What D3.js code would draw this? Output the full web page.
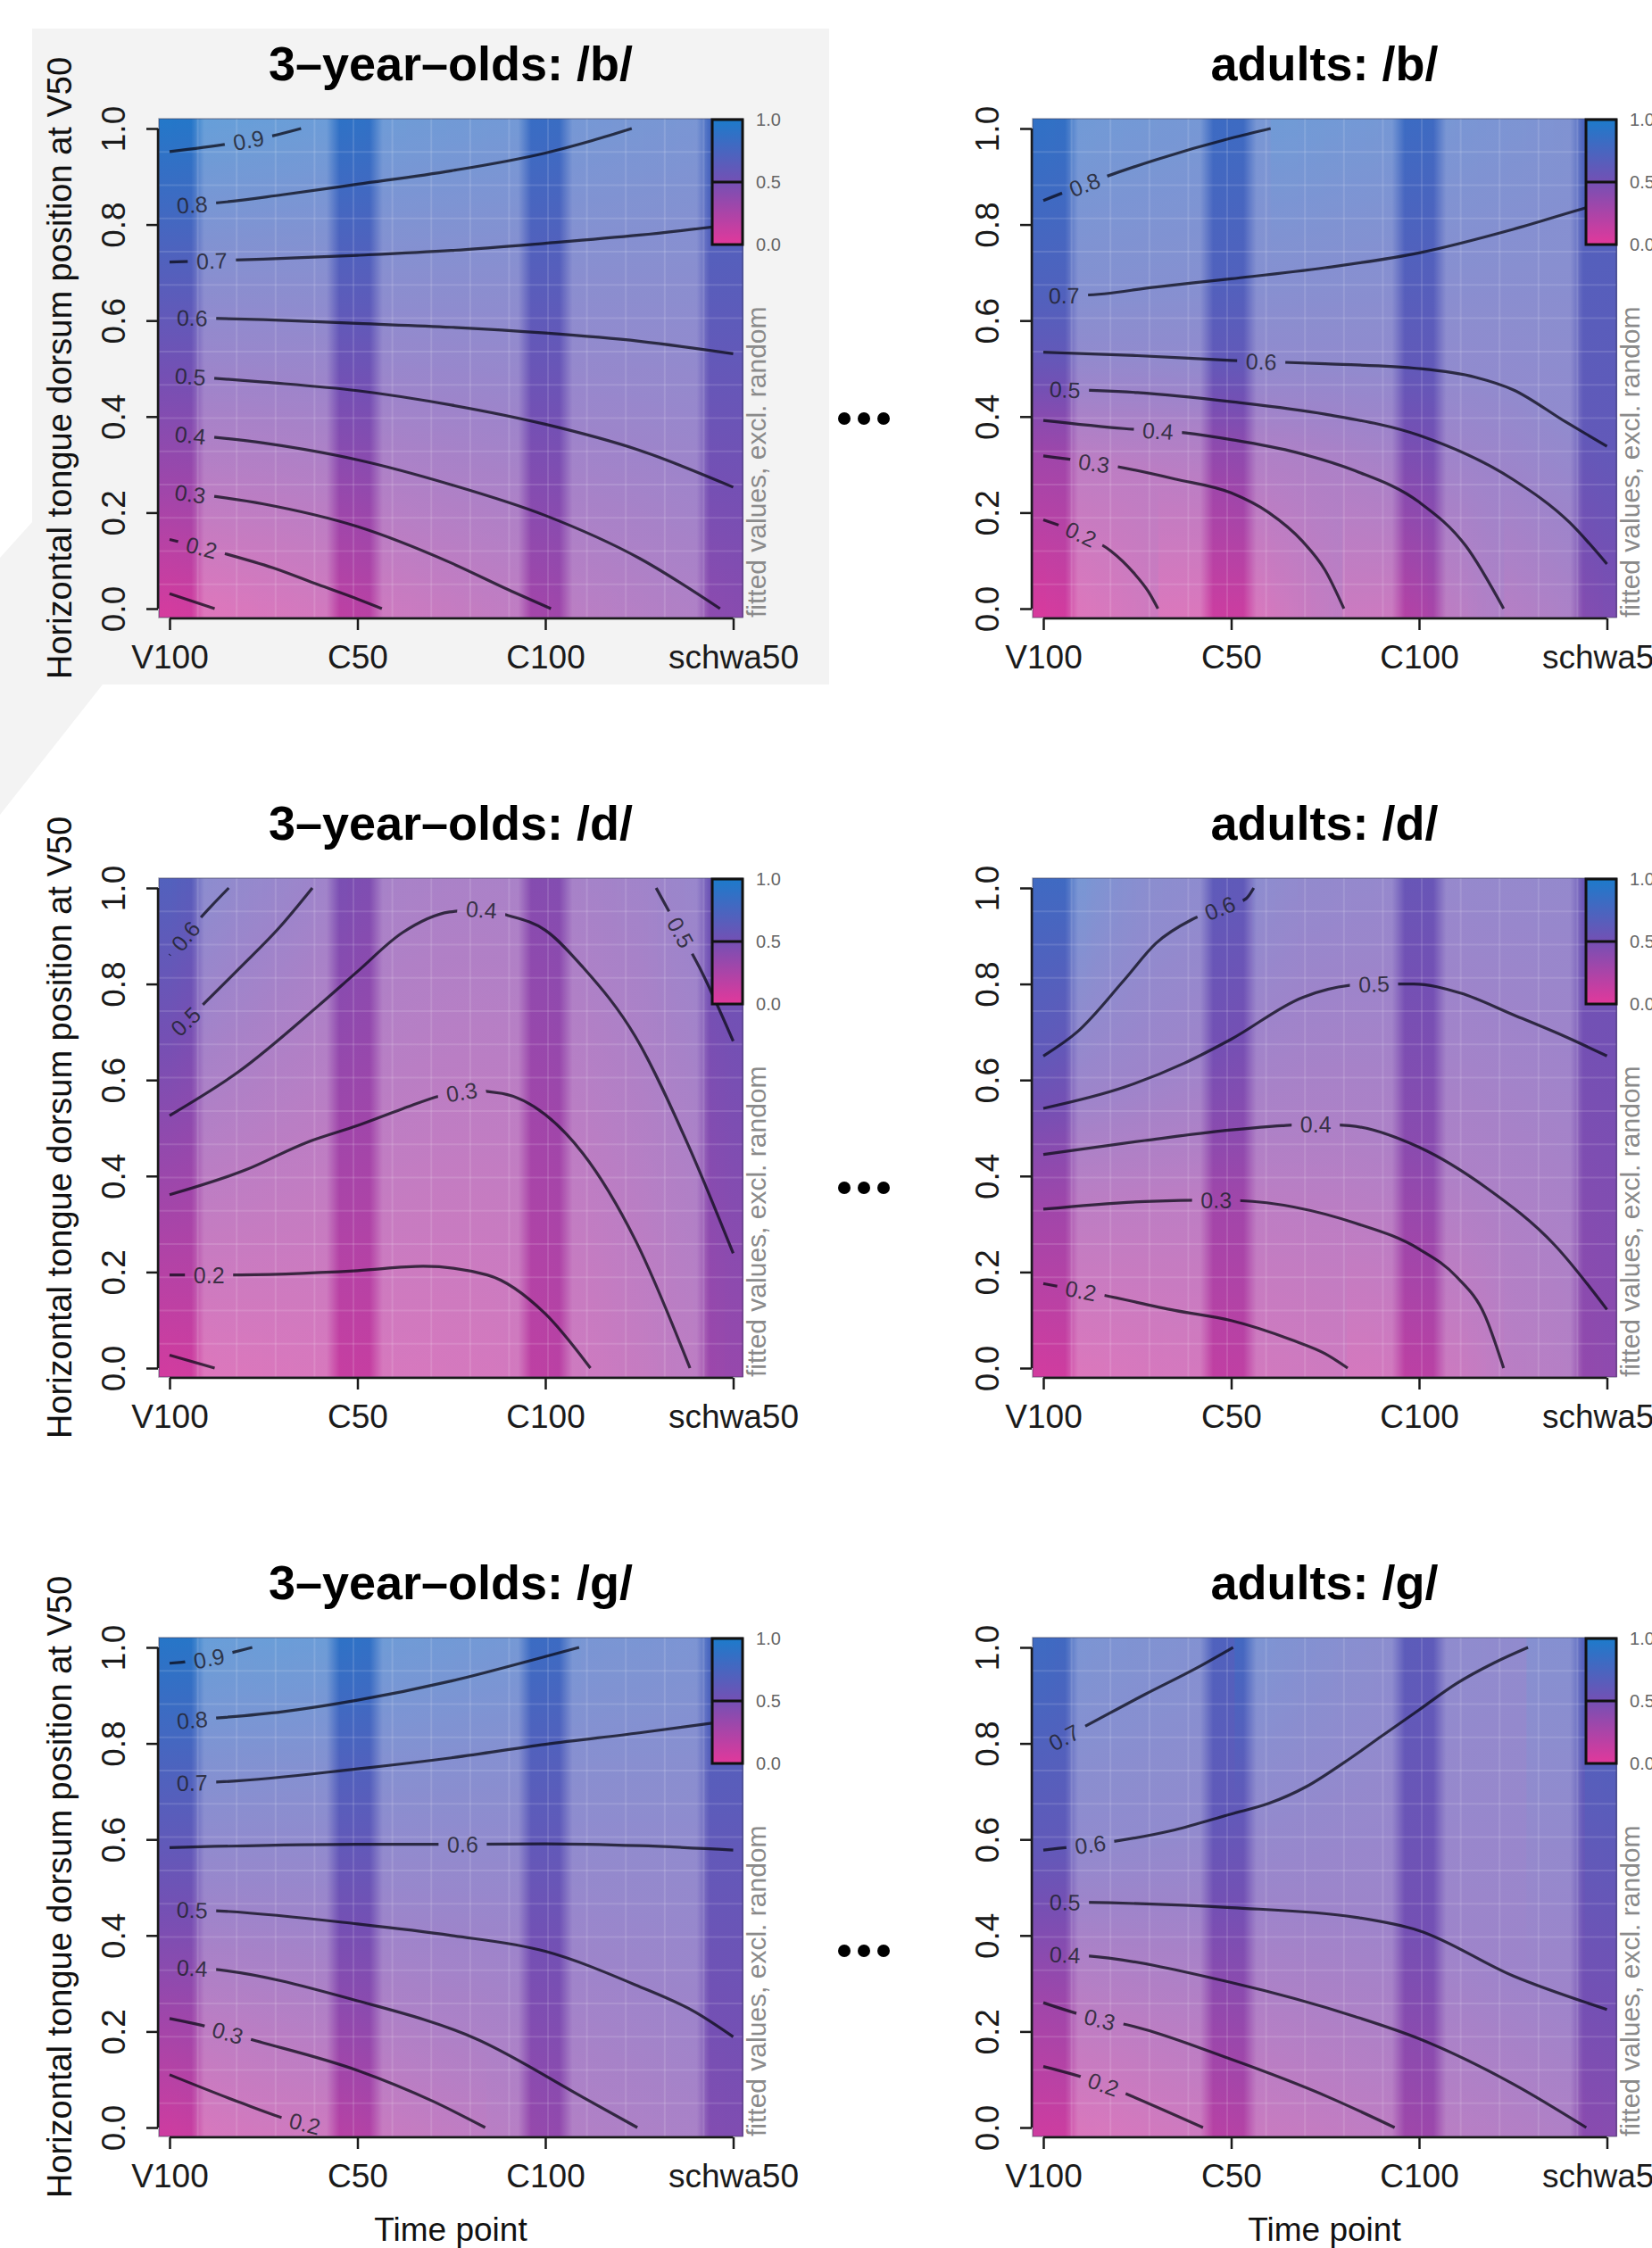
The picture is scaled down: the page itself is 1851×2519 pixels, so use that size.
<!DOCTYPE html>
<html>
<head>
<meta charset="utf-8">
<script src="https://cdn.jsdelivr.net/npm/d3@7"></script>
<style>
  html, body { margin: 0; padding: 0; background: #fff; }
  svg { display: block; font-family: 'Liberation Sans', Arial, Helvetica, sans-serif; }
</style>
</head>
<body>
<svg id="chart" width="1851" height="2519"></svg>
<script>
// ── Data ──
const timePoints  = ['V100', 'C50', 'C100', 'schwa50'];
const yTicks      = [0, 0.2, 0.4, 0.6, 0.8, 1.0];
const legendTicks = [0, 0.5, 1.0];

// darker vertical bands around the time points (in time-point units)
const bandLo = [-0.10, 0.87, 1.89, 2.84];
const bandHi = [0.15, 1.10, 2.11, 3.10];

// contour lines: [time point index, y]
const kidsB = [
  { level: 0.9, lab: 0.42,  pts: [[0, 0.952], [0.34, 0.970], [0.55, 0.985], [0.70, 1.0]] },
  { level: 0.8, lab: 0.12,  pts: [[0, 0.838], [0.225, 0.844], [0.6, 0.862], [1, 0.884], [1.5, 0.912], [2, 0.949], [2.25, 0.975], [2.46, 1.0]] },
  { level: 0.7, lab: 0.225, pts: [[0, 0.722], [0.5, 0.728], [1, 0.736], [1.5, 0.746], [2, 0.761], [2.5, 0.778], [3, 0.80]] },
  { level: 0.6, lab: 0.12,  pts: [[0, 0.607], [0.5, 0.602], [1, 0.594], [1.5, 0.586], [2, 0.574], [2.5, 0.557], [3, 0.531]] },
  { level: 0.5, lab: 0.11,  pts: [[0, 0.487], [0.5, 0.472], [1, 0.454], [1.5, 0.424], [2, 0.384], [2.5, 0.33], [3, 0.253]] },
  { level: 0.4, lab: 0.11,  pts: [[0, 0.366], [0.5, 0.345], [1, 0.31], [1.5, 0.258], [2, 0.194], [2.5, 0.105], [2.93, 0]] },
  { level: 0.3, lab: 0.11,  pts: [[0, 0.245], [0.5, 0.218], [1, 0.171], [1.5, 0.095], [1.8, 0.04], [2.03, 0]] },
  { level: 0.2, lab: 0.17,  pts: [[0, 0.144], [0.3, 0.114], [0.55, 0.085], [0.79, 0.05], [1.0, 0.02], [1.13, 0]] },
  { level: 0.1, lab: null,  pts: [[0, 0.031], [0.24, 0]] }
];

const adultsB = [
  { level: 0.8, lab: 0.22,  pts: [[0, 0.85], [0.32, 0.898], [0.6, 0.935], [1.0, 0.98], [1.21, 1.0]] },
  { level: 0.7, lab: 0.11,  pts: [[0, 0.652], [0.22, 0.653], [0.6, 0.67], [1, 0.687], [1.5, 0.71], [2, 0.741], [2.5, 0.79], [2.89, 0.835], [3, 0.847]] },
  { level: 0.6, lab: 1.16,  pts: [[0, 0.534], [0.5, 0.527], [1, 0.517], [1.5, 0.51], [2, 0.5], [2.3, 0.482], [2.5, 0.456], [2.78, 0.389], [3, 0.338]] },
  { level: 0.5, lab: 0.115, pts: [[0, 0.458], [0.5, 0.45], [1, 0.431], [1.5, 0.405], [2, 0.361], [2.5, 0.269], [2.8, 0.18], [3, 0.093]] },
  { level: 0.4, lab: 0.61,  pts: [[0, 0.392], [0.43, 0.375], [0.76, 0.366], [1, 0.352], [1.35, 0.325], [1.66, 0.287], [2, 0.222], [2.25, 0.13], [2.45, 0]] },
  { level: 0.3, lab: 0.27,  pts: [[0, 0.318], [0.39, 0.296], [0.7, 0.27], [1, 0.241], [1.2, 0.2], [1.38, 0.14], [1.5, 0.08], [1.6, 0]] },
  { level: 0.2, lab: 0.2,   pts: [[0, 0.185], [0.2, 0.155], [0.36, 0.12], [0.48, 0.075], [0.56, 0.035], [0.61, 0]] }
];

const kidsD = [
  { level: 0.6, lab: 0.085, pts: [[0, 0.86], [0.17, 0.94], [0.315, 1.0]] },
  { level: 0.5, lab: 0.085, pts: [[0, 0.69], [0.17, 0.754], [0.37, 0.832], [0.59, 0.92], [0.76, 1.0]] },
  { level: 0.4, lab: 1.66,  pts: [[0, 0.526], [0.37, 0.618], [0.79, 0.754], [1.0, 0.826], [1.24, 0.907], [1.49, 0.95], [1.66, 0.955], [1.8, 0.943], [2, 0.912], [2.2, 0.835], [2.48, 0.69], [2.76, 0.465], [3, 0.239]] },
  { level: 0.3, lab: 1.555, pts: [[0, 0.361], [0.4, 0.412], [0.73, 0.47], [1, 0.505], [1.24, 0.54], [1.44, 0.567], [1.6, 0.578], [1.77, 0.572], [2, 0.528], [2.2, 0.447], [2.48, 0.266], [2.77, 0]] },
  { level: 0.2, lab: 0.21,  pts: [[0, 0.194], [0.31, 0.194], [1, 0.203], [1.35, 0.212], [1.69, 0.194], [2, 0.113], [2.24, 0]] },
  { level: 0.1, lab: null,  pts: [[0, 0.027], [0.24, 0]] },
  { level: 0.5, lab: 2.72,  pts: [[2.59, 1.0], [2.73, 0.9], [2.82, 0.835], [3, 0.681]] }
];

const adultsD = [
  { level: 0.6, lab: 0.94,  pts: [[0, 0.65], [0.18, 0.70], [0.43, 0.808], [0.6, 0.885], [0.79, 0.934], [0.94, 0.958], [1.08, 0.978], [1.12, 1.0]] },
  { level: 0.5, lab: 1.76,  pts: [[0, 0.541], [0.43, 0.585], [0.75, 0.635], [1.0, 0.685], [1.38, 0.772], [1.63, 0.797], [1.77, 0.80], [1.97, 0.80], [2.22, 0.781], [2.5, 0.736], [2.78, 0.69], [3, 0.65]] },
  { level: 0.4, lab: 1.45,  pts: [[0, 0.445], [0.54, 0.474], [1, 0.496], [1.27, 0.505], [1.45, 0.508], [1.63, 0.505], [2, 0.46], [2.36, 0.375], [2.72, 0.257], [3, 0.122]] },
  { level: 0.3, lab: 0.92,  pts: [[0, 0.331], [0.54, 0.347], [0.92, 0.35], [1.04, 0.349], [1.66, 0.302], [2, 0.248], [2.2, 0.19], [2.35, 0.11], [2.45, 0]] },
  { level: 0.2, lab: 0.2,   pts: [[0, 0.176], [0.19, 0.162], [0.32, 0.152], [0.7, 0.12], [1, 0.099], [1.32, 0.059], [1.5, 0.03], [1.62, 0]] }
];

const kidsG = [
  { level: 0.9, lab: 0.21,  pts: [[0, 0.967], [0.21, 0.977], [0.34, 0.99], [0.44, 1.0]] },
  { level: 0.8, lab: 0.12,  pts: [[0, 0.845], [0.225, 0.852], [0.6, 0.866], [1, 0.89], [1.5, 0.93], [2, 0.981], [2.18, 1.0]] },
  { level: 0.7, lab: 0.12,  pts: [[0, 0.717], [0.225, 0.719], [1, 0.747], [1.5, 0.77], [2, 0.798], [2.5, 0.822], [3, 0.848]] },
  { level: 0.6, lab: 1.56,  pts: [[0, 0.583], [1, 0.59], [1.56, 0.59], [2, 0.591], [2.5, 0.587], [3, 0.578]] },
  { level: 0.5, lab: 0.12,  pts: [[0, 0.455], [0.225, 0.452], [1, 0.424], [1.5, 0.4], [2, 0.367], [2.48, 0.297], [2.8, 0.24], [3, 0.189]] },
  { level: 0.4, lab: 0.12,  pts: [[0, 0.335], [0.225, 0.33], [1, 0.264], [1.63, 0.185], [2.2, 0.063], [2.49, 0]] },
  { level: 0.3, lab: 0.31,  pts: [[0, 0.227], [0.17, 0.213], [0.42, 0.185], [1, 0.119], [1.4, 0.055], [1.68, 0]] },
  { level: 0.2, lab: 0.72,  pts: [[0, 0.11], [0.37, 0.053], [0.62, 0.018], [0.8, 0]] }
];

const adultsG = [
  { level: 0.7, lab: 0.11,  pts: [[0, 0.79], [0.2, 0.831], [0.54, 0.902], [0.82, 0.958], [1.01, 1.0]] },
  { level: 0.6, lab: 0.25,  pts: [[0, 0.578], [0.26, 0.59], [0.39, 0.597], [0.7, 0.62], [1, 0.653], [1.2, 0.675], [1.4, 0.71], [1.6, 0.76], [1.8, 0.815], [2, 0.87], [2.2, 0.925], [2.4, 0.968], [2.58, 1.0]] },
  { level: 0.5, lab: 0.115, pts: [[0, 0.47], [0.22, 0.469], [1, 0.458], [1.66, 0.438], [2, 0.41], [2.5, 0.316], [3, 0.246]] },
  { level: 0.4, lab: 0.115, pts: [[0, 0.362], [0.22, 0.358], [1, 0.302], [1.66, 0.231], [2, 0.185], [2.5, 0.091], [2.89, 0]] },
  { level: 0.3, lab: 0.3,   pts: [[0, 0.26], [0.3, 0.225], [0.41, 0.217], [1, 0.142], [1.52, 0.063], [1.87, 0]] },
  { level: 0.2, lab: 0.32,  pts: [[0, 0.127], [0.32, 0.09], [0.43, 0.072], [0.85, 0]] }
];

const panelTitles = ['3\u2013year\u2013olds: /b/', 'adults: /b/', '3\u2013year\u2013olds: /d/', 'adults: /d/', '3\u2013year\u2013olds: /g/', 'adults: /g/'];
const panelLines  = [kidsB, adultsB, kidsD, adultsD, kidsG, adultsG];

// ── Layout ──
const colShift = [0, 979];
const rowShift = [0, 851, 1702];
const dotRowY  = [469, 1331, 2186];
const dotX     = [946, 968, 990];
const tLo = -0.057, tHi = 3.05, vLo = -0.0186, vHi = 1.0204;
const greyShape = [[36, 32], [929, 32], [929, 767], [115, 767], [0, 913], [0, 625], [36, 585]];

const svg  = d3.select('#chart');
const defs = svg.append('defs');
const fmt1 = d3.format('.1f');
const fieldColour = d3.scaleLinear()
  .domain([0, 0.5, 1])
  .range(['#e2389b', '#7450b4', '#1c7bcb'])
  .clamp(true);

svg.append('polygon')
  .attr('points', greyShape.map(p => p.join(',')).join(' '))
  .attr('fill', '#f3f3f3');

// ── Helpers ──
function lineAt(pts, t) {
  if (t < pts[0][0] || t > pts[pts.length - 1][0]) return null;
  for (let k = 0; k < pts.length - 1; k++) {
    const [ta, ya] = pts[k], [tb, yb] = pts[k + 1];
    if (t >= ta && t <= tb) {
      const f = tb === ta ? 0 : (t - ta) / (tb - ta);
      return ya + f * (yb - ya);
    }
  }
  return null;
}

// colour stops for one vertical strip, from where the contour lines cross it
function stripStops(lines, tc) {
  const t = Math.max(0, Math.min(3, tc));
  const c = [];
  lines.forEach(l => {
    const yv = lineAt(l.pts, t);
    if (yv !== null) c.push({ y: yv, z: l.level });
  });
  c.sort((a, b) => a.y - b.y);
  const n = c.length;
  let zb, zt;
  if (n >= 2) {
    const sb = (c[1].z - c[0].z) / Math.max(c[1].y - c[0].y, 0.05);
    const st = (c[n - 1].z - c[n - 2].z) / Math.max(c[n - 1].y - c[n - 2].y, 0.05);
    zb = Math.max(c[0].z - sb * (c[0].y - vLo), c[0].z - 0.2);
    zt = Math.min(c[n - 1].z + st * (vHi - c[n - 1].y), c[n - 1].z + 0.2);
  } else if (n === 1) {
    zb = c[0].z - 0.35 * (c[0].y - vLo);
    zt = c[0].z + 0.35 * (vHi - c[0].y);
  } else {
    zb = 0.4; zt = 0.6;
  }
  return [{ y: vHi, z: zt }, ...c.slice().reverse(), { y: vLo, z: zb }];
}

// ── Panels ──
panelLines.forEach((lines, pi) => {
  const col = pi % 2, row = Math.floor(pi / 2);
  const dx = colShift[col], dy = rowShift[row];

  const x = d3.scaleLinear().domain([0, 3]).range([190 + dx, 821.5 + dx]);
  const y = d3.scaleLinear().domain([0, 1]).range([682 + dy, 144 + dy]);
  const L = x(tLo), R = x(tHi), T = y(vHi), B = y(vLo);
  const g = svg.append('g');

  // fitted-value field as thin vertical strips
  const nStrips = 130;
  const stripW = (tHi - tLo) / nStrips;
  const strips = d3.range(nStrips).map(i => tLo + (i + 0.5) * stripW);
  strips.forEach((tc, i) => {
    const lg = defs.append('linearGradient')
      .attr('id', `bg${pi}_${i}`)
      .attr('x1', 0).attr('y1', 0).attr('x2', 0).attr('y2', 1);
    stripStops(lines, tc).forEach(s => {
      lg.append('stop')
        .attr('offset', (vHi - s.y) / (vHi - vLo))
        .attr('stop-color', fieldColour(s.z));
    });
  });
  g.append('g').selectAll('rect')
    .data(strips)
    .join('rect')
    .attr('x', tc => x(tc - stripW / 2))
    .attr('y', T)
    .attr('width', (x(stripW) - x(0)) + 1)
    .attr('height', B - T)
    .attr('fill', (tc, i) => `url(#bg${pi}_${i})`);

  // lighter wash outside the time-point bands
  const wash = 0.3, soft = 0.035;
  const ov = defs.append('linearGradient')
    .attr('id', `ov${pi}`).attr('gradientUnits', 'userSpaceOnUse')
    .attr('x1', L).attr('x2', R).attr('y1', 0).attr('y2', 0);
  const ovStops = [];
  bandLo.forEach((lo, k) => {
    const hi = bandHi[k];
    ovStops.push([lo - soft, wash], [lo + soft, 0], [hi - soft, 0], [hi + soft, wash]);
  });
  ovStops.forEach(([t, o]) => {
    const off = Math.max(0, Math.min(1, (x(t) - L) / (R - L)));
    ov.append('stop').attr('offset', off).attr('stop-color', '#fff').attr('stop-opacity', o);
  });
  g.append('rect')
    .attr('x', L).attr('y', T).attr('width', R - L).attr('height', B - T)
    .attr('fill', `url(#ov${pi})`);

  // faint raster seams
  const seams = d3.range(1, 15);
  g.append('g').selectAll('line.v').data(seams).join('line')
    .attr('x1', k => L + k * (R - L) / 15).attr('x2', k => L + k * (R - L) / 15)
    .attr('y1', T).attr('y2', B)
    .attr('stroke', '#fff').attr('stroke-opacity', 0.13).attr('stroke-width', 2);
  g.append('g').selectAll('line.h').data(seams).join('line')
    .attr('y1', k => T + k * (B - T) / 15).attr('y2', k => T + k * (B - T) / 15)
    .attr('x1', L).attr('x2', R)
    .attr('stroke', '#fff').attr('stroke-opacity', 0.13).attr('stroke-width', 2);

  // contour labels: position + angle along the line
  const labels = lines.filter(l => l.lab !== null).map(l => {
    const t = l.lab;
    const first = l.pts[0][0], last = l.pts[l.pts.length - 1][0];
    const ta = Math.max(first, t - 0.05), tb = Math.min(last, t + 0.05);
    const ang = Math.atan2(y(lineAt(l.pts, tb)) - y(lineAt(l.pts, ta)), x(tb) - x(ta)) * 180 / Math.PI;
    return { text: fmt1(l.level), px: x(t), py: y(lineAt(l.pts, t)), ang };
  });

  const mask = defs.append('mask')
    .attr('id', `m${pi}`).attr('maskUnits', 'userSpaceOnUse')
    .attr('x', 0).attr('y', 0).attr('width', 1851).attr('height', 2519);
  mask.append('rect')
    .attr('x', L - 20).attr('y', T - 20).attr('width', R - L + 40).attr('height', B - T + 40)
    .attr('fill', '#fff');
  mask.selectAll('rect.gap').data(labels).join('rect')
    .attr('class', 'gap')
    .attr('x', -27).attr('y', -12).attr('width', 54).attr('height', 24)
    .attr('transform', d => `translate(${d.px},${d.py}) rotate(${d.ang})`)
    .attr('fill', '#000');

  const path = d3.line().x(d => x(d[0])).y(d => y(d[1])).curve(d3.curveMonotoneX);
  g.append('g').attr('mask', `url(#m${pi})`)
    .selectAll('path').data(lines).join('path')
    .attr('d', d => path(d.pts))
    .attr('fill', 'none')
    .attr('stroke', '#0a0a16')
    .attr('stroke-opacity', 0.75)
    .attr('stroke-width', 3.2);

  g.append('g').selectAll('text').data(labels).join('text')
    .attr('transform', d => `translate(${d.px},${d.py}) rotate(${d.ang})`)
    .attr('text-anchor', 'middle')
    .attr('dy', '0.36em')
    .attr('font-size', 25)
    .attr('fill', '#22222e')
    .attr('fill-opacity', 0.85)
    .text(d => d.text);

  // thin frame
  g.append('rect')
    .attr('x', L).attr('y', T).attr('width', R - L).attr('height', B - T)
    .attr('fill', 'none').attr('stroke', '#3a3a55').attr('stroke-opacity', 0.45).attr('stroke-width', 1.5);

  // colour key
  const kg = defs.append('linearGradient')
    .attr('id', `key${pi}`).attr('x1', 0).attr('y1', 0).attr('x2', 0).attr('y2', 1);
  legendTicks.slice().reverse().forEach(v => {
    kg.append('stop').attr('offset', 1 - v).attr('stop-color', fieldColour(v));
  });
  const key = d3.scaleLinear().domain([0, 1]).range([T + 141, T + 1]);
  g.append('rect')
    .attr('x', R - 34).attr('y', key(1)).attr('width', 34).attr('height', key(0) - key(1))
    .attr('fill', `url(#key${pi})`)
    .attr('stroke', '#111').attr('stroke-width', 3);
  g.append('line')
    .attr('x1', R - 34).attr('x2', R).attr('y1', key(0.5)).attr('y2', key(0.5))
    .attr('stroke', '#111').attr('stroke-width', 3);
  g.append('g').selectAll('text').data(legendTicks).join('text')
    .attr('x', R + 15).attr('y', v => key(v)).attr('dy', '0.36em')
    .attr('font-size', 20).attr('fill', '#666')
    .text(v => fmt1(v));

  g.append('text')
    .attr('transform', `translate(${R + 26},${B}) rotate(-90)`)
    .attr('font-size', 30).attr('fill', '#8a8a8a')
    .text('fitted values, excl. random');

  // axes
  const ax = g.append('g')
    .attr('transform', `translate(0,${B + 1})`)
    .call(d3.axisBottom(x).tickValues([0, 1, 2, 3]).tickFormat(i => timePoints[i]).tickSize(13))
    .attr('font-family', null).attr('font-size', 37).style('color', '#1a1a1a');
  ax.select('.domain').remove();
  ax.selectAll('.tick line').attr('stroke-width', 2.5);
  ax.selectAll('.tick text').attr('y', 56).attr('dy', null);
  ax.append('line')
    .attr('x1', x(0)).attr('x2', x(3)).attr('stroke', 'currentColor').attr('stroke-width', 2.5);

  const ay = g.append('g')
    .attr('transform', `translate(${L - 1},0)`)
    .call(d3.axisLeft(y).tickValues(yTicks).tickFormat(fmt1).tickSize(13))
    .attr('font-family', null).attr('font-size', 37).style('color', '#1a1a1a');
  ay.select('.domain').remove();
  ay.selectAll('.tick line').attr('stroke-width', 2.5);
  ay.selectAll('.tick text')
    .attr('x', null).attr('dy', null)
    .attr('text-anchor', 'middle')
    .attr('transform', 'translate(-37,0) rotate(-90)');
  ay.append('line')
    .attr('y1', y(0)).attr('y2', y(1)).attr('stroke', 'currentColor').attr('stroke-width', 2.5);

  // titles
  g.append('text')
    .attr('x', (L + R) / 2).attr('y', 90 + dy)
    .attr('text-anchor', 'middle')
    .attr('font-size', 54).attr('font-weight', 'bold').attr('fill', '#000')
    .text(panelTitles[pi]);

  if (col === 0) {
    g.append('text')
      .attr('transform', `translate(80,${(T + B) / 2}) rotate(-90)`)
      .attr('text-anchor', 'middle')
      .attr('font-size', 38).attr('fill', '#111')
      .text('Horizontal tongue dorsum position at V50');
  }
  if (row === 2) {
    g.append('text')
      .attr('x', (L + R) / 2).attr('y', 2511)
      .attr('text-anchor', 'middle')
      .attr('font-size', 37).attr('fill', '#111')
      .text('Time point');
  }
});

// ── "…" between the columns ──
svg.append('g').selectAll('circle')
  .data(d3.cross(dotRowY, dotX))
  .join('circle')
  .attr('cx', d => d[1]).attr('cy', d => d[0]).attr('r', 7)
  .attr('fill', '#000');
</script>
</body>
</html>
